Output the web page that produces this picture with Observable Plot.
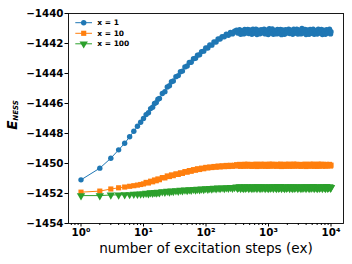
<!DOCTYPE html>
<html>
<head>
<meta charset="utf-8">
<script src="https://cdn.jsdelivr.net/npm/d3@7"></script>
<script src="https://cdn.jsdelivr.net/npm/@observablehq/plot@0.6"></script>
<style>
  html, body { margin: 0; padding: 0; background: #fff; }
  #chart { width: 352px; height: 264px; }
</style>
</head>
<body>
<div id="chart"></div>
<script>
// ---- data ----
const seriesNames = ["x = 1", "x = 10", "x = 100"];
const seriesColors = ["#1f77b4", "#ff7f0e", "#2ca02c"];

const steps = [1,2,3,4,5,6,7,8,9,10,11,12,13,14,15,16,17,18,20,22,24,26,28,30,33,36,39,42,46,50,54,58,63,68,73,79,85,92,99,107,115,124,134,145,156,168,181,196,211,228,246,265,286,
  308,332,358,386,416,449,484,522,563,607,654,705,760,820,884,953,1028,1108,1195,1288,1389,1498,1615,1741,1877,2024,2182,2353,2537,2735,2949,3180,3428,3696,3985,4297,4633,4995,5386,5807,6261,6751,7279,7848,8462,9123,9837,10000];

const energyX1 = [-1451.09,-1450.31,-1449.65,-1449.09,-1448.65,-1448.22,-1447.85,-1447.52,-1447.25,-1447.0,
  -1446.74,-1446.62,-1446.34,-1446.25,-1446.0,-1445.94,-1445.71,-1445.67,-1445.33,-1445.21,-1444.9,-1444.82,-1444.55,-1444.5,-1444.21,-1444.14,-1443.88,-1443.84,-1443.56,-1443.5,-1443.27,-1443.25,-1443.02,-1442.99,-1442.78,-1442.75,-1442.54,-1442.51,-1442.3,-1442.3,-1442.1,-1442.11,-1441.9,-1441.9,-1441.7,-1441.7,-1441.55,-1441.55,-1441.38,-1441.45,-1441.26,-1441.36,-1441.18,
  -1441.12,-1441.24,-1441.38,-1441.22,-1441.06,-1441.2,-1441.34,-1441.18,-1441.04,-1441.26,-1441.4,-1441.2,
  -1441.08,-1441.22,-1441.36,-1441.16,-1441.02,-1441.24,-1441.38,-1441.2,-1441.06,-1441.28,-1441.41,-1441.22,
  -1441.08,-1441.18,-1441.34,-1441.24,-1441.04,-1441.2,-1441.37,-1441.22,-1441.0,-1441.26,-1441.4,-1441.18,
  -1441.06,-1441.22,-1441.38,-1441.2,-1441.05,-1441.25,-1441.4,-1441.2,-1441.08,-1441.24,-1441.36,-1441.22];

const energyX10 = [-1451.91,-1451.84,-1451.7,-1451.62,-1451.57,-1451.52,-1451.48,-1451.44,-1451.4,-1451.36,
  -1451.26,-1451.3,-1451.18,-1451.22,-1451.1,-1451.15,-1451.03,-1451.08,-1450.94,-1450.96,-1450.83,-1450.87,-1450.76,-1450.81,-1450.69,-1450.73,-1450.62,-1450.66,-1450.54,-1450.58,-1450.47,-1450.52,-1450.41,-1450.45,-1450.35,-1450.4,-1450.31,-1450.35,-1450.26,-1450.3,-1450.23,-1450.27,-1450.2,-1450.25,-1450.17,-1450.23,-1450.15,-1450.21,-1450.13,-1450.2,-1450.12,-1450.19,-1450.12,
  -1450.08,-1450.13,-1450.19,-1450.12,-1450.05,-1450.11,-1450.18,-1450.13,-1450.06,-1450.12,-1450.2,-1450.11,
  -1450.05,-1450.13,-1450.19,-1450.12,-1450.04,-1450.11,-1450.18,-1450.13,-1450.06,-1450.12,-1450.2,-1450.11,
  -1450.05,-1450.12,-1450.19,-1450.13,-1450.04,-1450.11,-1450.18,-1450.12,-1450.06,-1450.13,-1450.2,-1450.11,
  -1450.05,-1450.12,-1450.19,-1450.12,-1450.04,-1450.11,-1450.18,-1450.13,-1450.06,-1450.12,-1450.17,-1450.11];

const energyX100 = [-1452.14,-1452.14,-1452.1,-1452.09,-1452.08,-1452.07,-1452.05,-1452.04,-1452.03,-1452.02,
  -1451.98,-1452.01,-1451.95,-1451.98,-1451.93,-1451.97,-1451.91,-1451.94,-1451.88,-1451.91,-1451.85,-1451.89,-1451.83,-1451.86,-1451.81,-1451.85,-1451.78,-1451.82,-1451.76,-1451.8,-1451.74,-1451.78,-1451.72,-1451.76,-1451.71,-1451.75,-1451.69,-1451.73,-1451.67,-1451.71,-1451.66,-1451.7,-1451.64,-1451.68,-1451.63,-1451.67,-1451.62,-1451.66,-1451.61,-1451.65,-1451.6,-1451.64,-1451.6,
  -1451.56,-1451.6,-1451.66,-1451.61,-1451.54,-1451.59,-1451.67,-1451.6,-1451.55,-1451.61,-1451.66,-1451.59,
  -1451.54,-1451.6,-1451.67,-1451.61,-1451.55,-1451.59,-1451.66,-1451.6,-1451.53,-1451.61,-1451.67,-1451.59,
  -1451.55,-1451.6,-1451.66,-1451.61,-1451.54,-1451.59,-1451.67,-1451.6,-1451.55,-1451.61,-1451.66,-1451.59,
  -1451.54,-1451.6,-1451.67,-1451.61,-1451.55,-1451.59,-1451.66,-1451.6,-1451.53,-1451.61,-1451.65,-1451.6];

// extra plateau samples (the plateau is densely sampled in the source)
const plateauSteps = [320,345,372,401,432,466,503,542,585,630,679,732,
  789,851,918,990,1067,1151,1241,1338,1442,1555,1677,1808,
  1949,2102,2266,2443,2634,2840,3062,3302,3560,3838,4138,4462,
  4811,5187,5593,6030,6501,7010,7558,8149,8786,9473];

const plateauX1 = [-1441.3,-1441.08,-1441.14,-1441.36,-1441.3,-1441.06,-1441.1,-1441.38,-1441.32,-1441.04,-1441.12,-1441.35,
  -1441.28,-1441.05,-1441.12,-1441.4,-1441.3,-1441.03,-1441.14,-1441.36,-1441.33,-1441.06,-1441.1,-1441.38,
  -1441.3,-1441.05,-1441.12,-1441.39,-1441.31,-1441.04,-1441.12,-1441.36,-1441.3,-1441.06,-1441.1,-1441.38,
  -1441.32,-1441.04,-1441.14,-1441.37,-1441.3,-1441.06,-1441.12,-1441.38,-1441.3,-1441.05];

const plateauX10 = [-1450.17,-1450.06,-1450.07,-1450.18,-1450.17,-1450.05,-1450.07,-1450.19,-1450.17,-1450.05,-1450.06,-1450.18,
  -1450.17,-1450.05,-1450.07,-1450.19,-1450.16,-1450.05,-1450.06,-1450.18,-1450.17,-1450.04,-1450.07,-1450.19,
  -1450.17,-1450.05,-1450.06,-1450.18,-1450.17,-1450.05,-1450.07,-1450.19,-1450.16,-1450.05,-1450.06,-1450.18,
  -1450.17,-1450.04,-1450.07,-1450.19,-1450.17,-1450.05,-1450.06,-1450.18,-1450.16,-1450.06];

const plateauX100 = [-1451.65,-1451.55,-1451.56,-1451.66,-1451.65,-1451.54,-1451.56,-1451.67,-1451.64,-1451.54,-1451.55,-1451.66,
  -1451.65,-1451.54,-1451.56,-1451.67,-1451.64,-1451.55,-1451.55,-1451.66,-1451.65,-1451.53,-1451.56,-1451.67,
  -1451.65,-1451.54,-1451.55,-1451.66,-1451.64,-1451.54,-1451.56,-1451.67,-1451.65,-1451.55,-1451.55,-1451.66,
  -1451.65,-1451.53,-1451.56,-1451.67,-1451.64,-1451.54,-1451.55,-1451.66,-1451.65,-1451.55];

const xTicks = [1, 10, 100, 1000, 10000];
const xTickLabels = ["10⁰", "10¹", "10²", "10³", "10⁴"];
const xMinorTicks = [0.7,0.8,0.9, 2,3,4,5,6,7,8,9, 20,30,40,50,60,70,80,90, 200,300,400,500,600,700,800,900, 2000,3000,4000,5000,6000,7000,8000,9000];
const yTicks = [-1454, -1452, -1450, -1448, -1446, -1444, -1442, -1440];
const xLabel = "number of excitation steps (ex)";

// ---- build ----
const seriesValues = [energyX1, energyX10, energyX100];
const seriesPlateau = [plateauX1, plateauX10, plateauX100];
const rows = [];
seriesValues.forEach((vals, si) => {
  const r = [];
  vals.forEach((v, i) => r.push({series: seriesNames[si], step: steps[i], energy: v}));
  seriesPlateau[si].forEach((v, i) => r.push({series: seriesNames[si], step: plateauSteps[i], energy: v}));
  r.sort((a, b) => a.step - b.step);
  rows.push(...r);
});

const triangleDown = {
  draw(context, size) {
    const sqrt3 = Math.sqrt(3);
    const y = -Math.sqrt(size / (sqrt3 * 3));
    context.moveTo(0, -y * 2);
    context.lineTo(-sqrt3 * y, y);
    context.lineTo(sqrt3 * y, y);
    context.closePath();
  }
};
const symbols = ["circle", "square", triangleDown];
const markR = [2.7, 2.9, 3.1];

const marks = [];
seriesNames.forEach((name, si) => {
  const data = rows.filter(d => d.series === name);
  marks.push(Plot.line(data, {x: "step", y: "energy", stroke: seriesColors[si], strokeWidth: 1}));
  marks.push(Plot.dot(data, {x: "step", y: "energy", fill: seriesColors[si], stroke: "none", r: markR[si], symbol: symbols[si]}));
});

const fmtInt = d3.format("d");
const chart = Plot.plot({
  width: 352,
  height: 264,
  marginLeft: 68,
  marginRight: 9,
  marginTop: 13,
  marginBottom: 41,
  style: {fontFamily: "'DejaVu Sans', sans-serif", fontSize: "10px", background: "#fff", color: "#000"},
  x: {type: "log", domain: [Math.pow(10, -0.2), Math.pow(10, 4.2)]},
  y: {domain: [-1454, -1440]},
  marks: [
    ...marks,
    Plot.frame({stroke: "#000", strokeWidth: 0.9}),
    Plot.axisY(yTicks, {tickSize: 3.5, tickPadding: 1.5, fontWeight: "bold", fontSize: 10.3, label: null,
      tickFormat: d => fmtInt(d)}),
    Plot.axisX(xTicks, {tickSize: 3.5, tickPadding: 2, fontWeight: "bold", fontSize: 10.3, label: null,
      tickFormat: d => xTickLabels[xTicks.indexOf(d)]}),
    Plot.axisX(xMinorTicks, {tickSize: 2, fill: "none", label: null})
  ]
});

document.getElementById("chart").appendChild(chart);

const svg = d3.select(chart);
// x label
svg.append("text")
  .attr("x", 206).attr("y", 252.5)
  .attr("text-anchor", "middle")
  .attr("font-family", "'DejaVu Sans', sans-serif")
  .attr("font-size", 13.6)
  .attr("fill", "#000")
  .text(xLabel);

// y label: E_NESS (bold italic)
const yl = svg.append("text")
  .attr("transform", "translate(16.7,115) rotate(-90)")
  .attr("text-anchor", "middle")
  .attr("font-family", "'DejaVu Sans', sans-serif")
  .attr("font-weight", "bold")
  .attr("font-style", "italic")
  .attr("fill", "#000");
yl.append("tspan").attr("font-size", 13.5).text("E");
yl.append("tspan").attr("font-size", 7).attr("dy", 1).text("NESS");

// legend
const lg = svg.append("g");
const rowY = [22.7, 33.3, 43.8];
seriesNames.forEach((name, si) => {
  const y = rowY[si];
  lg.append("line").attr("x1", 75.3).attr("x2", 92).attr("y1", y).attr("y2", y)
    .attr("stroke", seriesColors[si]).attr("stroke-width", 1);
  const sym = si === 0 ? d3.symbolCircle : si === 1 ? d3.symbolSquare : triangleDown;
  lg.append("path").attr("d", d3.symbol(sym, Math.PI * markR[si] * markR[si])())
    .attr("transform", `translate(83.7,${y})`).attr("fill", seriesColors[si]);
  lg.append("text").attr("x", 97.3).attr("y", y).attr("dy", "0.35em")
    .attr("text-anchor", "start")
    .attr("font-family", "'DejaVu Sans', sans-serif")
    .attr("font-size", 7.5).attr("font-weight", "bold").attr("fill", "#000")
    .text(name);
});
</script>
</body>
</html>
